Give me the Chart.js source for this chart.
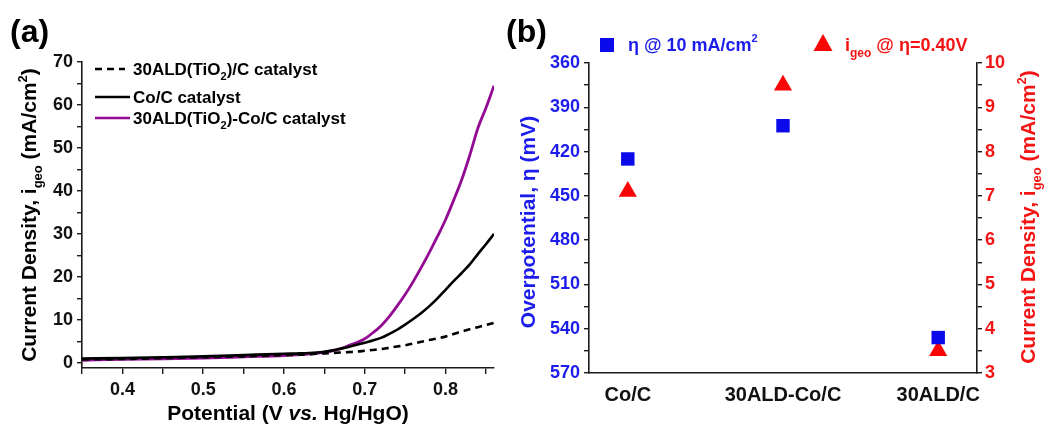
<!DOCTYPE html>
<html>
<head>
<meta charset="utf-8">
<script src="https://cdn.jsdelivr.net/npm/chart.js@4/dist/chart.umd.min.js"></script>
<style>
  html, body { margin: 0; padding: 0; background: #fff; }
  #wrap { position: relative; width: 1049px; height: 424px; }
  canvas { position: absolute; left: 0; top: 0; }
</style>
</head>
<body>
<div id="wrap">
  <canvas id="ca" width="1049" height="424"></canvas>
  <canvas id="cb" width="1049" height="424"></canvas>
</div>
<script>
// ---------- Data: panel (a) ----------
const potential = [0.35,0.40,0.45,0.50,0.55,0.60,0.62,
  0.64,0.65,0.66,0.67,0.68,0.69,0.70,0.71,0.72,0.73,0.74,0.75,0.76,0.77,0.78,0.79,0.80,0.81,0.82,0.83,0.84,0.85,0.86];
const tio2C = [0.8,0.9,1.1,1.3,1.5,1.8,1.9,
  2.1,2.2,2.3,2.4,2.5,2.6,2.8,3.0,3.2,3.5,3.8,4.1,4.5,4.9,5.3,5.7,6.1,6.7,7.3,7.8,8.3,8.8,9.3];
const coC = [1.0,1.1,1.3,1.5,1.8,2.1,2.2,
  2.4,2.6,2.9,3.3,3.7,4.2,4.7,5.2,5.8,6.7,7.7,8.9,10.2,11.6,13.2,15.0,17.0,19.0,20.9,22.9,25.3,27.6,30.0];
const tio2CoC = [0.6,0.8,0.9,1.1,1.4,1.7,1.9,
  2.2,2.5,2.8,3.3,4.0,4.7,5.6,7.0,8.6,10.7,13.2,15.9,18.9,22.2,25.7,29.4,33.3,37.8,42.6,48.3,54.6,59.3,64.5];
const seriesNamesA = ['30ALD(TiO2)/C catalyst','Co/C catalyst','30ALD(TiO2)-Co/C catalyst'];
const xTicksA = [0.35,0.40,0.45,0.50,0.55,0.60,0.65,0.70,0.75,0.80,0.85];
const yTicksA = [0,5,10,15,20,25,30,35,40,45,50,55,60,65,70];

// ---------- Data: panel (b) ----------
const categories = ['Co/C','30ALD-Co/C','30ALD/C'];
const overpotential = [425, 402.5, 546];      // mV @ 10 mA/cm2
const currentAt040 = [7.1, 9.5, 3.5];         // mA/cm2 @ eta = 0.40 V

const FONT = '"Liberation Sans", Arial, Helvetica, sans-serif';
const BLUE = 'rgb(28,28,235)';
const RED = 'rgb(245,20,20)';
const PURPLE = '#930a93';
const AXIS = '#1a1a1a';

function f(size, style) { return (style || 'bold') + ' ' + size + 'px ' + FONT; }

function drawRich(ctx, runs, x, y, opts) {
  opts = opts || {};
  ctx.save();
  ctx.translate(x, y);
  if (opts.rot) ctx.rotate(opts.rot);
  let total = 0;
  runs.forEach(r => { ctx.font = r.font; r.w = ctx.measureText(r.t).width; total += r.w; });
  let cx = opts.align === 'left' ? 0 : -total / 2;
  ctx.textAlign = 'left';
  ctx.textBaseline = 'alphabetic';
  runs.forEach(r => {
    ctx.font = r.font;
    ctx.fillStyle = r.color || opts.color || '#000';
    ctx.fillText(r.t, cx, r.dy || 0);
    cx += r.w;
  });
  ctx.restore();
}

function pts(xs, ys) { return xs.map((x, i) => ({x: x, y: ys[i]})); }

// ---------- Panel (a) ----------
const decorA = {
  id: 'decorA',
  afterDraw(chart) {
    const ctx = chart.ctx;
    drawRich(ctx, [{t: '(a)', font: f(32)}], 10, 42, {align: 'left'});
    drawRich(ctx, [
      {t: 'Potential (V ', font: f(21)},
      {t: 'vs.', font: f(21, 'italic bold')},
      {t: ' Hg/HgO)', font: f(21)}
    ], 288, 420);
    drawRich(ctx, [
      {t: 'Current Density, i', font: f(21)},
      {t: 'geo', font: f(13), dy: 6},
      {t: ' (mA/cm', font: f(21)},
      {t: '2', font: f(13), dy: -9},
      {t: ')', font: f(21)}
    ], 36, 215, {rot: -Math.PI / 2});
    const items = [
      {y: 69, x2: 125, color: '#000', dash: [7, 5], runs: [
        {t: '30ALD(TiO', font: f(17)}, {t: '2', font: f(11), dy: 5}, {t: ')/C catalyst', font: f(17)}]},
      {y: 97, x2: 130, color: '#000', dash: [], runs: [{t: seriesNamesA[1], font: f(17)}]},
      {y: 118, x2: 130, color: PURPLE, dash: [], runs: [
        {t: '30ALD(TiO', font: f(17)}, {t: '2', font: f(11), dy: 5}, {t: ')-Co/C catalyst', font: f(17)}]}
    ];
    items.forEach(it => {
      ctx.save();
      ctx.strokeStyle = it.color;
      ctx.lineWidth = 2.6;
      ctx.setLineDash(it.dash);
      ctx.beginPath();
      ctx.moveTo(95, it.y);
      ctx.lineTo(it.x2, it.y);
      ctx.stroke();
      ctx.restore();
      drawRich(ctx, it.runs, 133, it.y + 6, {align: 'left', color: '#000'});
    });
  }
};

new Chart(document.getElementById('ca'), {
  type: 'line',
  data: {
    datasets: [
      {label: seriesNamesA[0], data: pts(potential, tio2C), borderColor: '#000', borderWidth: 2.6, borderDash: [7, 5], pointRadius: 0, cubicInterpolationMode: 'monotone'},
      {label: seriesNamesA[1], data: pts(potential, coC), borderColor: '#000', borderWidth: 2.6, pointRadius: 0, cubicInterpolationMode: 'monotone'},
      {label: seriesNamesA[2], data: pts(potential, tio2CoC), borderColor: PURPLE, borderWidth: 2.8, pointRadius: 0, cubicInterpolationMode: 'monotone'}
    ]
  },
  options: {
    responsive: false,
    animation: false,
    events: [],
    layout: {padding: {left: 0, top: 62, right: 555, bottom: 0}},
    plugins: {legend: {display: false}, tooltip: {enabled: false}},
    scales: {
      x: {
        type: 'linear', min: 0.35, max: 0.86,
        afterFit: s => { s.height = 56; },
        afterBuildTicks: s => { s.ticks = xTicksA.map(v => ({value: v})); },
        border: {display: true, color: AXIS, width: 1.6},
        grid: {display: true, drawOnChartArea: false, drawTicks: true, tickLength: 6, color: AXIS, lineWidth: 1.4},
        ticks: {
          autoSkip: false, maxRotation: 0, padding: 5, color: '#111',
          font: {family: FONT, size: 18, weight: 'bold'},
          callback: v => Math.abs(v * 10 - Math.round(v * 10)) < 1e-6 ? v.toFixed(1) : ''
        }
      },
      y: {
        type: 'linear', min: -1.2, max: 70,
        afterFit: s => { s.width = 82; },
        afterBuildTicks: s => { s.ticks = yTicksA.map(v => ({value: v})); },
        border: {display: true, color: AXIS, width: 1.6},
        grid: {display: true, drawOnChartArea: false, drawTicks: true, tickLength: 5, color: AXIS, lineWidth: 1.4},
        ticks: {
          autoSkip: false, padding: 4, color: '#111',
          font: {family: FONT, size: 18, weight: 'bold'},
          callback: v => (Math.round(v) % 10 === 0 ? String(Math.round(v)) : '')
        }
      }
    }
  },
  plugins: [decorA]
});

// ---------- Panel (b) ----------
const decorB = {
  id: 'decorB',
  afterDraw(chart) {
    const ctx = chart.ctx;
    drawRich(ctx, [{t: '(b)', font: f(32)}], 506, 42, {align: 'left'});
    drawRich(ctx, [{t: 'Overpotential, \u03B7 (mV)', font: f(21)}], 535, 222, {rot: -Math.PI / 2, color: BLUE});
    drawRich(ctx, [
      {t: 'Current Density, i', font: f(21)},
      {t: 'geo', font: f(13), dy: 6},
      {t: ' (mA/cm', font: f(21)},
      {t: '2', font: f(13), dy: -9},
      {t: ')', font: f(21)}
    ], 1035, 217, {rot: -Math.PI / 2, color: RED});
    ctx.save();
    ctx.fillStyle = 'rgb(10,10,235)';
    ctx.fillRect(600, 38, 14, 14);
    ctx.fillStyle = 'rgb(250,5,5)';
    ctx.beginPath();
    ctx.moveTo(823, 34);
    ctx.lineTo(832.5, 51);
    ctx.lineTo(813.5, 51);
    ctx.closePath();
    ctx.fill();
    ctx.restore();
    drawRich(ctx, [
      {t: '\u03B7 @ 10 mA/cm', font: f(18)},
      {t: '2', font: f(11), dy: -9}
    ], 628, 51, {align: 'left', color: BLUE});
    drawRich(ctx, [
      {t: 'i', font: f(18)},
      {t: 'geo', font: f(12), dy: 6},
      {t: ' @ \u03B7=0.40V', font: f(18)}
    ], 845, 51, {align: 'left', color: RED});
  }
};

new Chart(document.getElementById('cb'), {
  type: 'scatter',
  data: {
    datasets: [
      {label: '\u03B7 @ 10 mA/cm2', yAxisID: 'y', data: overpotential.map((v, i) => ({x: i, y: v})),
       pointStyle: 'rect', pointRadius: 9.5, backgroundColor: 'rgb(10,10,235)', borderColor: 'rgb(10,10,235)', borderWidth: 0},
      {label: 'igeo @ \u03B7=0.40V', yAxisID: 'y2', data: currentAt040.map((v, i) => ({x: i, y: v})),
       pointStyle: 'triangle', pointRadius: 10.5, backgroundColor: 'rgb(250,5,5)', borderColor: 'rgb(250,5,5)', borderWidth: 0}
    ]
  },
  options: {
    responsive: false,
    animation: false,
    events: [],
    clip: false,
    layout: {padding: {left: 520, top: 63, right: 0, bottom: 0}},
    plugins: {legend: {display: false}, tooltip: {enabled: false}},
    scales: {
      x: {
        type: 'linear', min: -0.25, max: 2.25,
        afterFit: s => { s.height = 51; },
        afterBuildTicks: s => { s.ticks = categories.map((c, i) => ({value: i})); },
        border: {display: true, color: AXIS, width: 1.6},
        grid: {display: false, drawTicks: false},
        ticks: {
          autoSkip: false, maxRotation: 0, padding: 10, color: '#111',
          font: {family: FONT, size: 20, weight: 'bold'},
          callback: v => categories[v] !== undefined ? categories[v] : ''
        }
      },
      y: {
        type: 'linear', position: 'left', reverse: true, min: 360, max: 570,
        afterFit: s => { s.width = 69; },
        border: {display: true, color: AXIS, width: 1.6},
        grid: {display: true, drawOnChartArea: false, drawTicks: true, tickLength: 5, color: AXIS, lineWidth: 1.4},
        ticks: {
          stepSize: 15, autoSkip: false, padding: 4, color: BLUE,
          font: {family: FONT, size: 18, weight: 'bold'},
          callback: v => ((Math.round(v) - 360) % 30 === 0 ? String(Math.round(v)) : '')
        }
      },
      y2: {
        type: 'linear', position: 'right', min: 3, max: 10,
        afterFit: s => { s.width = 72; },
        border: {display: true, color: AXIS, width: 1.6},
        grid: {display: true, drawOnChartArea: false, drawTicks: true, tickLength: 5, color: AXIS, lineWidth: 1.4},
        ticks: {
          stepSize: 0.5, autoSkip: false, padding: 3, color: RED,
          font: {family: FONT, size: 18, weight: 'bold'},
          callback: v => (Number.isInteger(v) ? String(v) : '')
        }
      }
    }
  },
  plugins: [decorB]
});
</script>
</body>
</html>
